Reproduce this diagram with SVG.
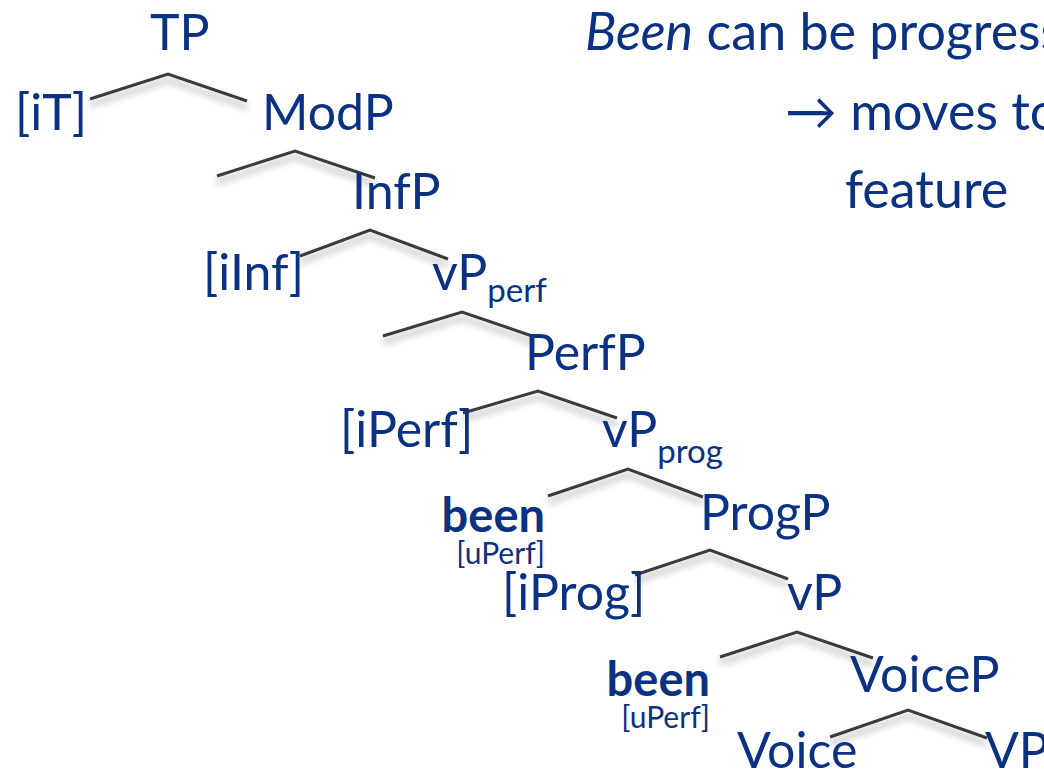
<svg xmlns="http://www.w3.org/2000/svg" width="1044" height="772" viewBox="0 0 1044 772">
  <defs>
    <filter id="soft" x="-10%" y="-50%" width="120%" height="300%">
      <feGaussianBlur in="SourceAlpha" stdDeviation="3.5"/>
      <feOffset dy="6" result="b"/>
      <feFlood flood-color="#000" flood-opacity="0.35"/>
      <feComposite in2="b" operator="in"/>
      <feMerge>
        <feMergeNode/>
        <feMergeNode in="SourceGraphic"/>
      </feMerge>
    </filter>
    <style>
      text { font-family: Lato, "Open Sans", sans-serif; fill: #0a3182; }
      .n { font-size: 50px; }
      .note { font-size: 52px; }
      .sub { font-size: 33px; }
      .b { font-size: 47px; font-weight: bold; }
      .f { font-size: 30px; }
      .br { fill: none; stroke: #3a3a3a; stroke-width: 3; stroke-linejoin: miter; filter: url(#soft); }
    </style>
  </defs>
  <rect width="1044" height="772" fill="#fff"/>

  <!-- branches -->
  <g id="connectors">
    <polyline class="br" points="90,99 168,74 247,101"/>
    <polyline class="br" points="217,176 295,151 375,178"/>
    <polyline class="br" points="300,256 370,230 448,259"/>
    <polyline class="br" points="383,336 462,312 535,337"/>
    <polyline class="br" points="463,413 538,391 617,418"/>
    <polyline class="br" points="548,496 628,469 703,497"/>
    <polyline class="br" points="635,575 710,550 788,579"/>
    <polyline class="br" points="720,657 797,632 873,658"/>
    <polyline class="br" points="830,737 908,710 987,738"/>
  </g>

  <!-- nodes -->
  <g id="tp"><text class="n" x="150" y="50">TP</text></g>
  <g id="it"><text class="n" x="15" y="130">[iT]</text></g>
  <g id="modp"><text class="n" x="262" y="130">ModP</text></g>
  <g id="infp"><text class="n" x="352" y="209">InfP</text></g>
  <g id="iinf"><text class="n" x="203" y="290">[iInf]</text></g>
  <g id="vpperf"><text class="n" x="432" y="290">vP<tspan class="sub" dy="12">perf</tspan></text></g>
  <g id="perfp"><text class="n" x="525" y="370">PerfP</text></g>
  <g id="iperf"><text class="n" x="340" y="447">[iPerf]</text></g>
  <g id="vpprog"><text class="n" x="602" y="447">vP<tspan class="sub" dy="16">prog</tspan></text></g>
  <g id="been1">
    <text class="b" x="545" y="532" text-anchor="end">been</text>
    <text class="f" x="545" y="564" text-anchor="end">[uPerf]</text>
  </g>
  <g id="progp"><text class="n" x="700" y="530">ProgP</text></g>
  <g id="iprog"><text class="n" x="502" y="610">[iProg]</text></g>
  <g id="vp"><text class="n" x="787" y="610">vP</text></g>
  <g id="been2">
    <text class="b" x="710" y="696" text-anchor="end">been</text>
    <text class="f" x="710" y="728" text-anchor="end">[uPerf]</text>
  </g>
  <g id="voicep"><text class="n" x="850" y="692">VoiceP</text></g>
  <g id="voice"><text class="n" x="737" y="768">Voice</text></g>
  <g id="vpleaf"><text class="n" x="985" y="768">VP</text></g>

  <!-- note at the right -->
  <g id="note">
    <text class="note" x="585" y="50"><tspan font-style="italic">Been</tspan> can be progress</text>
    <text class="note" x="785" y="130">→ moves to</text>
    <text class="note" x="845" y="208">feature</text>
  </g>
</svg>
